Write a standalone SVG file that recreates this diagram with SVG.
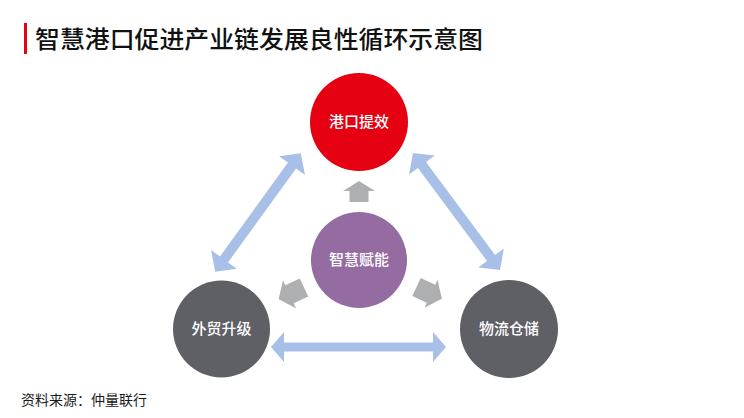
<svg xmlns="http://www.w3.org/2000/svg" width="744" height="418" viewBox="0 0 744 418">
<style>
text{font-family:"Noto Sans CJK SC","Noto Sans",sans-serif;}
.lbl{fill:#ffffff;font-size:15px;text-anchor:middle;font-weight:500;}
.blue{fill:#a8bfe8;}
.gray{fill:#aeafb1;}
</style>
<defs>
<path id="dbl" d="M-73,0 L-58,-16 L-58,-5 L58,-5 L58,-16 L73,0 L58,16 L58,5 L-58,5 L-58,16 Z"/>
<path id="garrow" d="M0,-10 L16,-10 L16,-15.5 L28,0 L16,15.5 L16,10 L0,10 Z"/>
</defs>
<rect width="744" height="418" fill="#ffffff"/>
<g id="title">
<rect x="24" y="23" width="3" height="31" fill="#e50012"/>
<text x="35" y="48" font-size="24" font-weight="500" fill="#111111" textLength="448" lengthAdjust="spacingAndGlyphs">智慧港口促进产业链发展良性循环示意图</text>
</g>
<g id="connectors">
<use href="#dbl" class="blue" transform="translate(258,212.5) rotate(-54.1)"/>
<use href="#dbl" class="blue" transform="translate(456.5,211.5) rotate(53.4)"/>
<path class="blue" d="M271,347 L284,332 L284,342.5 L433,342.5 L433,332 L446,347 L433,362 L433,351.5 L284,351.5 L284,362 Z"/>
<path class="gray" d="M359,181 L375,191 L368.5,191 L368.5,202 L349.5,202 L349.5,191 L343,191 Z"/>
<use href="#garrow" class="gray" transform="translate(304,287.5) rotate(155)"/>
<use href="#garrow" class="gray" transform="translate(416.5,287) rotate(25)"/>
</g>
<g id="node-port">
<circle cx="359" cy="122" r="49" fill="#e50012"/>
<text class="lbl" x="359" y="127">港口提效</text>
</g>
<g id="node-smart">
<circle cx="359" cy="260" r="48" fill="#946ca2"/>
<text class="lbl" x="359" y="265">智慧赋能</text>
</g>
<g id="node-trade">
<circle cx="221.5" cy="329" r="48.5" fill="#5f6065"/>
<text class="lbl" x="221.5" y="334">外贸升级</text>
</g>
<g id="node-logistics">
<circle cx="509" cy="329" r="49" fill="#5f6065"/>
<text class="lbl" x="509" y="334">物流仓储</text>
</g>
<g id="source">
<text x="21" y="405" font-size="14" fill="#1a1a1a">资料来源：仲量联行</text>
</g>
</svg>
